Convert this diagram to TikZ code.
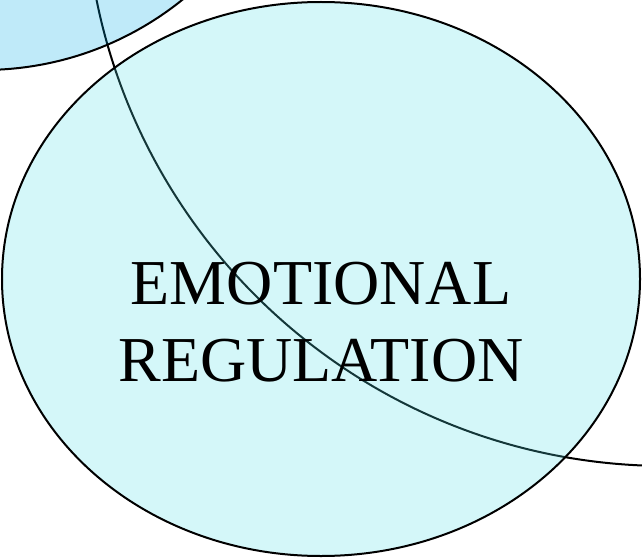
\documentclass[tikz,border=0pt]{standalone}
\usepackage{fontspec}
\setmainfont{Liberation Serif}
\usepackage{tikz}

\definecolor{skyfill}{RGB}{0,171,231}
\definecolor{aquafill}{RGB}{83,223,231}

\begin{document}
\begin{tikzpicture}
  [x=1pt, y=-1pt,
   ring/.style={draw=black, line width=2pt},
   maintext/.style={font=\fontsize{64}{77}\selectfont, align=center, inner sep=0pt}]
  \useasboundingbox (0,0) rectangle (642,559);
  % big circle at the top right, outline only
  \draw[ring] (667,-116) circle (582);
  % small circle at the top left
  \draw[ring, fill=skyfill, fill opacity=0.25] (-17,-248) circle (318);
  % main ellipse
  \draw[ring, fill=aquafill, fill opacity=0.25] (321,279) ellipse [x radius=319, y radius=277];
  \node[maintext] (title) at (321,322) {EMOTIONAL\\REGULATION};
\end{tikzpicture}
\end{document}
